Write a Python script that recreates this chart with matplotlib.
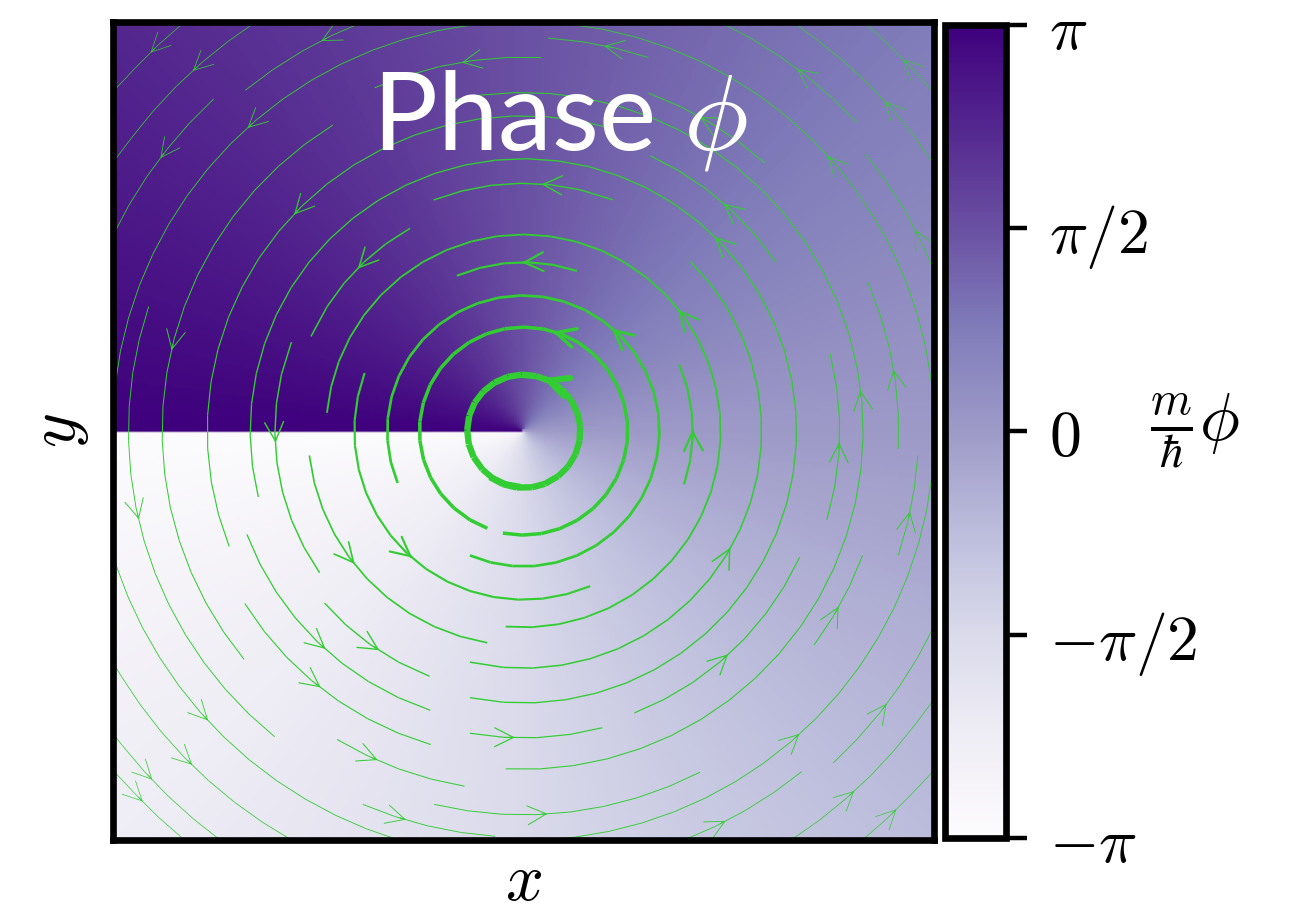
import numpy as np
import matplotlib.pyplot as plt

plt.rcParams['mathtext.fontset'] = 'cm'
plt.rcParams['font.family'] = ['DejaVu Sans']

# vortex phase field settings
vortex_center = [0.0, 0.0]
x_range = [-1.0, 1.0]
y_range = [-1.0, 1.0]
core_radius = 0.06
n_image = 301
n_stream = 40
phase_limits = [-np.pi, np.pi]
cbar_ticks = [-np.pi, -np.pi / 2, 0, np.pi / 2, np.pi]
cbar_ticklabels = [r'$-\pi$', r'$-\pi/2$', r'$0$', r'$\pi/2$', r'$\pi$']
stream_color = 'limegreen'

# phase image on a fine grid
xi = np.linspace(x_range[0], x_range[1], n_image)
yi = np.linspace(y_range[0], y_range[1], n_image)
XI, YI = np.meshgrid(xi, yi)
phase = np.arctan2(YI - vortex_center[1], XI - vortex_center[0])

# superfluid velocity on a coarser grid, core left out
xs = np.linspace(x_range[0], x_range[1], n_stream)
ys = np.linspace(y_range[0], y_range[1], n_stream)
XS, YS = np.meshgrid(xs, ys)
dx = XS - vortex_center[0]
dy = YS - vortex_center[1]
r2 = dx**2 + dy**2
core = r2 < core_radius**2
U = np.ma.masked_where(core, -dy / r2)
V = np.ma.masked_where(core, dx / r2)
speed = np.sqrt(dx**2 + dy**2) / r2
lw = np.clip(0.32 * speed, 0, 2.4)

fig = plt.figure(figsize=(6.555, 4.575), dpi=200)
ax = fig.add_axes([0.0862, 0.0820, 0.6262, 0.8940])
cax = fig.add_axes([0.7208, 0.0842, 0.0465, 0.8885])

im = ax.imshow(phase, origin='lower', extent=[x_range[0], x_range[1], y_range[0], y_range[1]],
               cmap='Purples', vmin=phase_limits[0], vmax=phase_limits[1], aspect='auto')
ax.streamplot(xs, ys, U, V, color=stream_color, linewidth=lw, density=0.8,
              arrowsize=1.7, arrowstyle='->')
ax.set_xlim(x_range)
ax.set_ylim(y_range)
ax.set_xticks([])
ax.set_yticks([])
ax.set_xlabel(r'$x$', fontsize=24, labelpad=3)
ax.set_ylabel(r'$y$', fontsize=24, labelpad=8)
for s in ax.spines.values():
    s.set_linewidth(2.4)

ax.text(0.315, 0.8435, r'Phase $\phi$', transform=ax.transAxes, color='white',
        fontsize=39, family='Lato', ha='left', va='baseline')

cb = fig.colorbar(im, cax=cax)
cb.set_ticks(cbar_ticks)
cb.set_ticklabels(cbar_ticklabels)
cb.ax.tick_params(labelsize=23, length=7.5, width=1.6, pad=8)
cb.outline.set_linewidth(2.4)
cb.ax.set_ylabel(r'$\frac{m}{\hbar}\phi$', rotation=0, fontsize=24, ha='center', va='center')
cb.ax.yaxis.set_label_coords(4.1, 0.5)

fig.savefig('out.png', dpi=200)
